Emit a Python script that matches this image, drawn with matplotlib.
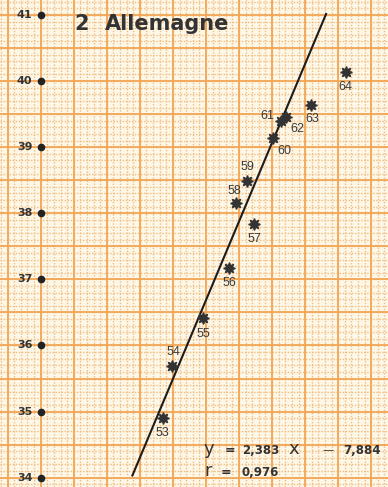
import numpy as np
import matplotlib.pyplot as plt

# Allemagne: yearly observations 1953-1964
years = ['53', '54', '55', '56', '57', '58', '59', '60', '61', '62', '63', '64']
x_vals = [18.049, 18.185, 18.663, 19.052, 19.435, 19.158, 19.329, 19.722, 19.831, 19.914, 20.297, 20.817]
y_vals = [34.899, 35.690, 36.411, 37.168, 37.834, 38.151, 38.489, 39.142, 39.399, 39.457, 39.635, 40.142]

# label offsets (points) for each year
lab_dx = [0, 1, 0, 0, 0, -1.4, 0, 8, -9.5, 8, 0.5, 0]
lab_dy = [-10.6, 10, -11.5, -10.8, -10.8, 9, 10.3, -9.7, 3.5, -8.6, -10, -11.2]

# regression line  y = a x + b
slope = 2.383
intercept = -7.884
r_coef = 0.976
x_line = np.array([17.59, 20.52])

y_ticks = [34, 35, 36, 37, 38, 39, 40, 41]

paper = '#fdf7e8'
orange = '#f3a655'
orange_light = '#f2bd80'
ink = '#333333'

fig = plt.figure(figsize=(3.88, 4.87), dpi=100)
fig.patch.set_facecolor(paper)
ax = fig.add_axes([0, 0, 1, 1])
ax.set_facecolor(paper)
ax.set_xlim(15.587, 21.457)
ax.set_ylim(33.859, 41.227)

# graph paper: fine dotted lines, then the cm lines
x0 = 16.203
for xv in np.arange(x0 - 1.0, 21.6, 0.1):
    ax.axvline(xv, color=orange_light, lw=1.0, ls=(0, (1, 1.2)), zorder=0)
for yv in np.arange(33.5, 41.5, 0.1):
    ax.axhline(yv, color=orange_light, lw=1.0, ls=(0, (1, 1.2)), zorder=0)
for xv in np.arange(x0 - 0.5, 21.6, 0.5):
    ax.axvline(xv, color=orange, lw=1.3, zorder=1)
for yv in np.arange(33.5, 41.6, 0.5):
    ax.axhline(yv, color=orange, lw=1.3, zorder=1)

# y axis: dots and labels at each integer
ax.plot([x0] * len(y_ticks), y_ticks, 'o', color='#222222', ms=4.5, zorder=3)
for t in y_ticks:
    ax.annotate(str(t), (x0, t), xytext=(-6, 0), textcoords='offset points',
                ha='right', va='center', fontsize=8, fontweight='bold',
                color=ink, family='DejaVu Sans')

# regression line
ax.plot(x_line, slope * x_line + intercept, color='#1c1c1c', lw=1.5, zorder=4)

# observations
ax.plot(x_vals, y_vals, ls='none', marker=(8, 1, 0), ms=8.5, color='#333333',
        mec='#333333', zorder=5)
for yr, xv, yv, dx, dy in zip(years, x_vals, y_vals, lab_dx, lab_dy):
    ax.annotate(yr, (xv, yv), xytext=(dx, dy), textcoords='offset points',
                ha='center', va='center', fontsize=9, color='#3a3a3a',
                family='Liberation Sans', zorder=6)

# title
ax.text(74 / 388, 1 - 24 / 487, '2', transform=ax.transAxes, ha='left', va='center',
        fontsize=15, fontweight='bold', color=ink, family='DejaVu Sans')
ax.text(105 / 388, 1 - 24 / 487, 'Allemagne', transform=ax.transAxes, ha='left',
        va='center', fontsize=15, fontweight='bold', color=ink, family='DejaVu Sans')

# equation
def put(px, py, s, size, bold):
    ax.text(px / 388, 1 - py / 487, s, transform=ax.transAxes, ha='left',
            va='baseline', fontsize=size, fontweight='bold' if bold else 'normal',
            color=ink, family='DejaVu Sans')

b1 = 453.5
put(204, b1, 'y', 13, False)
put(225, b1, '=', 9, True)
put(242, b1, '{:.3f}'.format(slope).replace('.', ','), 8.5, True)
put(288, b1, 'x', 13, False)
put(322, b1, '\u2014', 8, False)
put(343, b1, '{:.3f}'.format(-intercept).replace('.', ','), 8.5, True)

b2 = 476.5
put(204, b2, 'r', 13, False)
put(221, b2, '=', 9, True)
put(242, b2, '{:.3f}'.format(r_coef).replace('.', ','), 8.5, True)

ax.axis('off')
fig.savefig('out.png', dpi=100, facecolor=paper)
